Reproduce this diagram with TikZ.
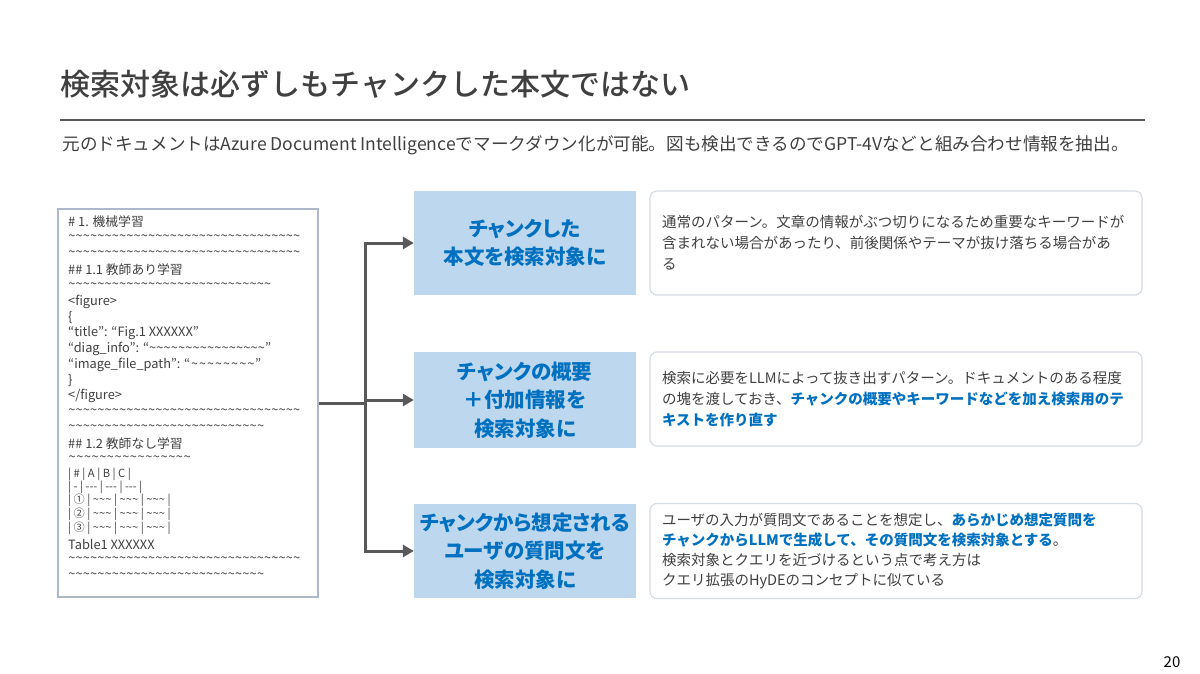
\documentclass[tikz,border=0pt]{standalone}
\usepackage{fontspec}
\setmainfont{Noto Sans CJK JP}
\newfontfamily\titlefont{Noto Sans CJK JP Medium}
\usetikzlibrary{arrows.meta}
\definecolor{textGray}{HTML}{404040}
\definecolor{ruleGray}{HTML}{595959}
\definecolor{keyBlue}{HTML}{0070C0}
\definecolor{boxBlue}{HTML}{BDD7EE}
\definecolor{noteEdge}{HTML}{D6DCE5}
\definecolor{docEdge}{HTML}{ADB9CA}
\newcommand{\wv}[1]{\hbox to #1pt{\xleaders\hbox to 7.25pt{\hss\textasciitilde\hss}\hfill}}
\newcommand{\kw}[1]{{\bfseries\color{keyBlue}#1}}
\newcommand{\tld}{\textasciitilde\textasciitilde\textasciitilde}

\begin{document}
\begin{tikzpicture}[x=1pt, y=-1pt, >={Triangle[length=11pt, width=12pt]}]

    \useasboundingbox (0,0) rectangle (1200,674);
    \fill[white] (0,0) rectangle (1200,674);

    % --- 1. Title and lead ---
    \node[anchor=west, text=textGray, font=\titlefont\fontsize{30}{34}\selectfont] (title) at (57,84)
        {検索対象は必ずしもチャンクした本文ではない};
    \draw[ruleGray, line width=2pt] (60,120) -- (1145,120);
    \node[anchor=west, text=textGray, font=\fontsize{17.6}{20}\selectfont] (lead) at (59,145)
        {元のドキュメントはAzure Document Intelligenceでマークダウン化が可能。図も検出できるのでGPT-4Vなどと組み合わせ情報を抽出。};


    % --- 2. Markdown document ---
    \tikzstyle{docline}=[anchor=west, inner sep=0pt, text=textGray, font=\fontsize{12.8}{14}\selectfont]
    \tikzstyle{tblline}=[docline, font=\fontsize{11.2}{12}\selectfont]

    \node[draw=docEdge, line width=1.2pt, minimum width=260pt, minimum height=388pt] (doc) at (188,403) {};

    \node[docline] (d1) at (68,222) {\# 1. 機械学習};
    \node[docline] (d2) at (68,238) {\wv{232}};
    \node[docline] (d3) at (68,254) {\wv{232}};
    \node[docline] (d4) at (68,270) {\#\# 1.1 教師あり学習};
    \node[docline] (d5) at (68,286) {\wv{203}};
    \node[docline] (d6) at (68,302) {<figure>};
    \node[docline] (d7) at (68,318) {\{};
    \node[docline] (d8) at (68,333) {“title”: “Fig.1 XXXXXX”};
    \node[docline] (d9) at (68,349) {“diag\_info”: “\wv{116}”};
    \node[docline] (d10) at (68,365) {“image\_file\_path”: “\wv{65}”};
    \node[docline] (d11) at (68,381) {\}};
    \node[docline] (d12) at (68,396) {</figure>};
    \node[docline] (d13) at (68,412) {\wv{232}};
    \node[docline] (d14) at (68,428) {\wv{196}};
    \node[docline] (d15) at (68,444) {\#\# 1.2 教師なし学習};
    \node[docline] (d16) at (68,459) {\wv{123}};
    \node[tblline] (d17) at (68,474) {| \# | A | B | C |};
    \node[tblline] (d18) at (68,487) {| - | {-}{-}{-} | {-}{-}{-} | {-}{-}{-} |};
    \node[tblline] (d19) at (68,500) {| ① | \tld{} | \tld{} | \tld{} |};
    \node[tblline] (d20) at (68,514) {| ② | \tld{} | \tld{} | \tld{} |};
    \node[tblline] (d21) at (68,528) {| ③ | \tld{} | \tld{} | \tld{} |};
    \node[docline] (d22) at (68,544) {Table1 XXXXXX};
    \node[docline] (d23) at (68,560) {\wv{232}};
    \node[docline] (d24) at (68,576) {\wv{196}};


    % --- 3. Search targets ---
    \tikzstyle{target}=[fill=boxBlue, text=keyBlue, align=center, minimum width=222pt, inner sep=0pt,
        font=\fontsize{20.5}{28.5}\selectfont\bfseries\addfontfeature{RawFeature=+palt}]

    \node[target, minimum height=104pt] (tgt1) at (525,243) {チャンクした\\本文を検索対象に};
    \node[target, minimum height=96pt] (tgt2) at (525,400) {チャンクの概要\\＋付加情報を\\検索対象に};
    \node[target, minimum height=94pt] (tgt3) at (525,551) {チャンクから想定される\\ユーザの質問文を\\検索対象に};


    % --- 4. Notes ---
    \tikzstyle{note}=[draw=noteEdge, line width=1.2pt, rounded corners=7pt, fill=white, align=left,
        minimum width=492pt, text width=468pt, inner xsep=12pt, text=textGray,
        font=\fontsize{14.5}{21}\selectfont]

    \node[note, minimum height=104pt] (note1) at (896,243)
        {通常のパターン。文章の情報がぶつ切りになるため重要なキーワードが\\
         含まれない場合があったり、前後関係やテーマが抜け落ちる場合があ\\
         る};
    \node[note, minimum height=94pt] (note2) at (896,399)
        {検索に必要をLLMによって抜き出すパターン。ドキュメントのある程度\\
         の塊を渡しておき、\kw{チャンクの概要やキーワードなどを加え検索用のテ}\\
         \kw{キストを作り直す}};
    \node[note, minimum height=95pt, font=\fontsize{14.5}{20}\selectfont] (note3) at (896,551)
        {ユーザの入力が質問文であることを想定し、\kw{あらかじめ想定質問を}\\
         \kw{チャンクからLLMで生成して、その質問文を検索対象とする}。\\
         検索対象とクエリを近づけるという点で考え方は\\
         クエリ拡張のHyDEのコンセプトに似ている};


    % --- 5. Connectors ---
    \tikzstyle{conn}=[ruleGray, line width=3pt]
    \coordinate (split) at (365,403);

    \draw[conn] (doc.east) -- (split);
    \draw[conn, line cap=rect] (split |- tgt1.west) -- (split |- tgt3.west);
    \foreach \t in {tgt1, tgt2, tgt3}
        \draw[conn, ->] (split |- \t.west) -- (\t.west);

    % page number
    \node[font=\fontsize{15}{18}\selectfont] (page) at (1172,662) {20};

\end{tikzpicture}
\end{document}
